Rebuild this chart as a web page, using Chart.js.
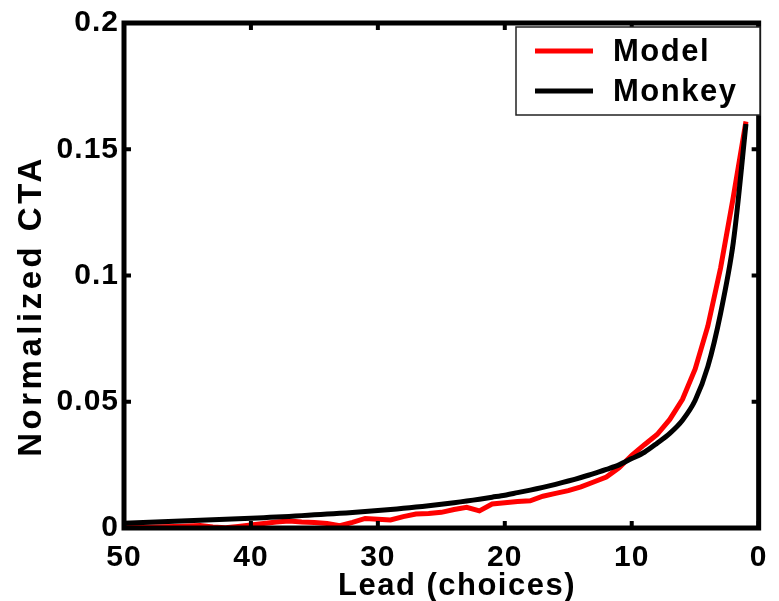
<!DOCTYPE html>
<html>
<head>
<meta charset="utf-8">
<script src="https://cdn.jsdelivr.net/npm/chart.js@4/dist/chart.umd.min.js"></script>
<style>
  html, body { margin: 0; padding: 0; background: #fff; }
  #wrap { width: 779px; height: 601px; }
</style>
</head>
<body>
<div id="wrap"><canvas id="ctaChart" width="779" height="601"></canvas></div>
<script>
// Lead (choices) 1..50
const leads = [];
for (let i = 1; i <= 50; i++) leads.push(i);

const modelCTA = [
  0.161, 0.131, 0.103, 0.080, 0.063, 0.051, 0.043, 0.037, 0.033, 0.0288,
  0.0238, 0.0202, 0.0182, 0.0163, 0.0148, 0.0137, 0.0126, 0.0108, 0.0105, 0.0100,
  0.0095, 0.0068, 0.0082, 0.0073, 0.0062, 0.0057, 0.0055, 0.0045, 0.0032, 0.0035,
  0.0038, 0.0022, 0.0009, 0.0018, 0.0022, 0.0024, 0.0028, 0.0024, 0.0018, 0.0012,
  0.0006, 0.0001, 0.0004, 0.0010, 0.0008, 0.0006, 0.0005, 0.0004, 0.0003, 0.0002
];

const monkeyCTA = [
  0.160, 0.113, 0.085, 0.064, 0.0506, 0.0427, 0.0375, 0.0336, 0.030, 0.0275,
  0.0250, 0.0232, 0.0215, 0.0200, 0.0186, 0.0173, 0.0161, 0.0150, 0.0140, 0.0130,
  0.0122, 0.0114, 0.0107, 0.0100, 0.0094, 0.0088, 0.0083, 0.0078, 0.0073, 0.0069,
  0.0065, 0.0061, 0.0058, 0.0055, 0.0052, 0.0049, 0.0046, 0.0044, 0.0041, 0.0039,
  0.0037, 0.0035, 0.0033, 0.0031, 0.0029, 0.0027, 0.0025, 0.0023, 0.0021, 0.0019
];

const xTicks = [50, 40, 30, 20, 10, 0];
const yTicks = [0, 0.05, 0.1, 0.15, 0.2];
const xTitle = 'Lead (choices)';
const yTitle = 'Normalized CTA';

const FONT = '"Liberation Sans", Arial, Helvetica, sans-serif';

// frame, inward ticks, axis titles and legend box
const framePlugin = {
  id: 'frame',
  beforeDraw(chart) {
    // the original text is a bit wider than Liberation Sans
    chart.ctx.letterSpacing = '1px';
  },
  afterDraw(chart) {
    const { ctx, chartArea: a, scales } = chart;
    ctx.save();
    ctx.strokeStyle = '#000';
    ctx.lineWidth = 5;
    ctx.strokeRect(a.left, a.top, a.right - a.left, a.bottom - a.top);

    ctx.lineWidth = 4;
    const tl = 7;
    xTicks.forEach(v => {
      const px = scales.x.getPixelForValue(v);
      ctx.beginPath();
      ctx.moveTo(px, a.bottom); ctx.lineTo(px, a.bottom - tl);
      ctx.moveTo(px, a.top); ctx.lineTo(px, a.top + tl);
      ctx.stroke();
    });
    yTicks.forEach(v => {
      const py = scales.y.getPixelForValue(v);
      ctx.beginPath();
      ctx.moveTo(a.left, py); ctx.lineTo(a.left + tl, py);
      ctx.moveTo(a.right, py); ctx.lineTo(a.right - tl, py);
      ctx.stroke();
    });

    // axis titles
    ctx.fillStyle = '#000';
    ctx.textAlign = 'center';
    ctx.textBaseline = 'alphabetic';
    ctx.font = 'bold 31px ' + FONT;
    ctx.letterSpacing = '1.5px';
    ctx.fillText(xTitle, 457, 595);
    ctx.save();
    ctx.translate(41, 306);
    ctx.rotate(-Math.PI / 2);
    ctx.font = 'bold 33px ' + FONT;
    ctx.letterSpacing = '3.5px';
    ctx.fillText(yTitle, 0, 0);
    ctx.restore();

    // legend
    const bx = 516, by = 27, bw = 244, bh = 88;
    ctx.fillStyle = '#fff';
    ctx.fillRect(bx, by, bw, bh);
    ctx.lineWidth = 1.5;
    ctx.strokeStyle = '#222';
    ctx.strokeRect(bx, by, bw, bh);
    ctx.font = 'bold 31px ' + FONT;
    ctx.letterSpacing = '1.5px';
    ctx.textAlign = 'left';
    ctx.textBaseline = 'middle';
    chart.data.datasets.forEach((ds, i) => {
      const y = by + 24 + i * 40;
      ctx.strokeStyle = ds.borderColor;
      ctx.lineWidth = 5;
      ctx.beginPath();
      ctx.moveTo(bx + 19, y); ctx.lineTo(bx + 77, y);
      ctx.stroke();
      ctx.fillStyle = '#000';
      ctx.fillText(ds.label, bx + 97, y + 1);
    });
    ctx.restore();
  }
};

new Chart(document.getElementById('ctaChart').getContext('2d'), {
  type: 'line',
  data: {
    datasets: [
      { label: 'Model', data: leads.map((l, i) => ({ x: l, y: modelCTA[i] })),
        borderColor: '#ff0000', borderWidth: 5, pointRadius: 0, tension: 0, order: 2 },
      { label: 'Monkey', data: leads.map((l, i) => ({ x: l, y: monkeyCTA[i] })),
        borderColor: '#000000', borderWidth: 5, pointRadius: 0, tension: 0.3, order: 1 }
    ]
  },
  options: {
    responsive: false,
    animation: false,
    layout: { padding: { top: 22, right: 11, left: 14, bottom: 0 } },
    plugins: { legend: { display: false }, tooltip: { enabled: false } },
    scales: {
      x: {
        type: 'linear', reverse: true, min: 0, max: 50,
        grid: { display: false, drawTicks: false },
        border: { display: false },
        afterBuildTicks: s => { s.ticks = xTicks.map(v => ({ value: v })); },
        afterFit: s => { s.height = 73; },
        ticks: { color: '#000', padding: 12, maxRotation: 0,
                 font: { family: FONT, size: 30, weight: 'bold' } }
      },
      y: {
        min: 0, max: 0.2,
        grid: { display: false, drawTicks: false },
        border: { display: false },
        afterBuildTicks: s => { s.ticks = yTicks.map(v => ({ value: v })); },
        afterFit: s => { s.width = 110; },
        ticks: { color: '#000', padding: 5,
                 callback: v => String(v),
                 font: { family: FONT, size: 30, weight: 'bold' } }
      }
    }
  },
  plugins: [framePlugin]
});
</script>
</body>
</html>
